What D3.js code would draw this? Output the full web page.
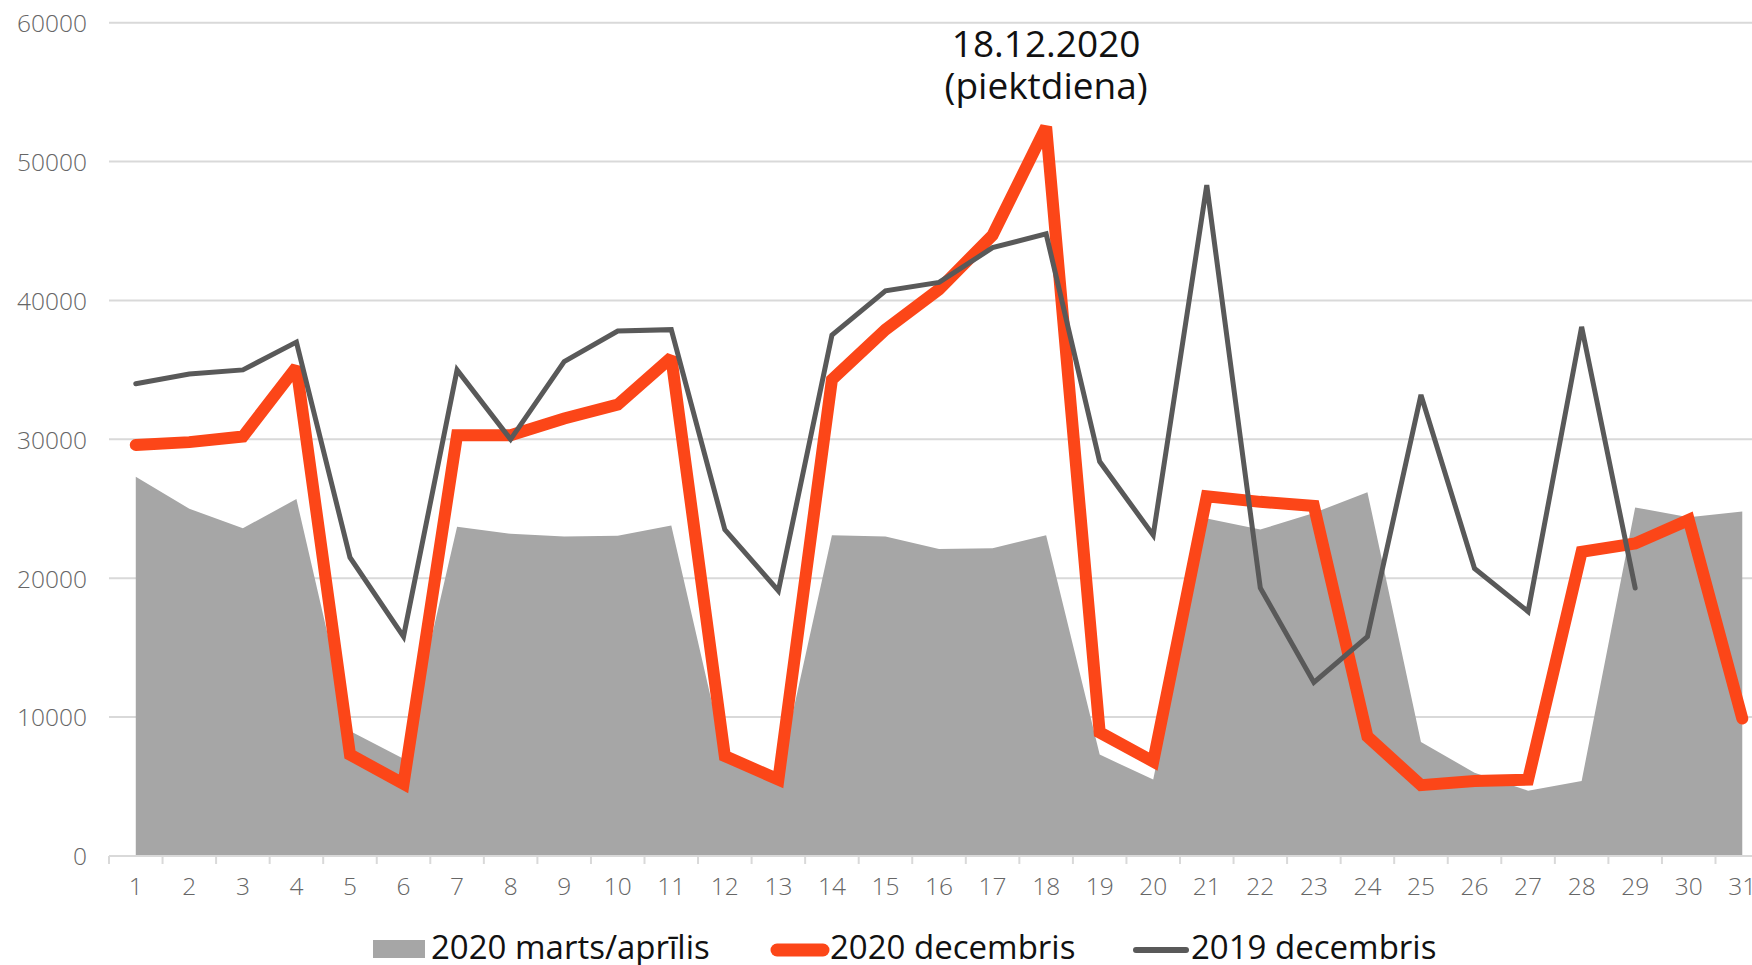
<!DOCTYPE html>
<html>
<head>
<meta charset="utf-8">
<script src="https://cdn.jsdelivr.net/npm/d3@7"></script>
<style>
  html, body { margin: 0; padding: 0; background: #fff; }
  svg { display: block; }
  .tick-label { font-family: "Open Sans", "Noto Sans", sans-serif; font-weight: 300; fill: #666; }
  .legend-label, .note { font-family: "Open Sans", "Noto Sans", sans-serif; fill: #111; }
</style>
</head>
<body>
<svg id="chart" width="1752" height="965"></svg>
<script>
// Days of the month on the category axis
const days = d3.range(1, 32).map(String);

// Daily counts, 2020 March/April (area)
const martsAprilis = [27300, 25000, 23600, 25700, 9000, 7000, 23700, 23200, 23000, 23050,
  23800, 7000, 5600, 23100, 23000, 22100, 22150, 23100, 7300, 5500,
  24300, 23500, 24700, 26200, 8200, 6000, 4700, 5400, 25100, 24400, 24800];

// Daily counts, December 2020 (thick line)
const decembris2020 = [29600, 29800, 30200, 35200, 7300, 5200, 30300, 30300, 31500, 32500,
  35900, 7200, 5500, 34300, 37900, 40800, 44700, 52500, 8900, 6800,
  25900, 25500, 25200, 8600, 5100, 5400, 5500, 21900, 22500, 24200, 9900];

// Daily counts, December 2019 (thin line); no data after the 29th
const decembris2019 = [34000, 34700, 35000, 37000, 21500, 15800, 35000, 30000, 35600, 37800,
  37900, 23500, 19100, 37500, 40700, 41300, 43800, 44800, 28400, 23100,
  48300, 19300, 12500, 15800, 33200, 20700, 17600, 38100, 19300, null, null];

const yTicks = [0, 10000, 20000, 30000, 40000, 50000, 60000];

const seriesNames = ["2020 marts/aprīlis", "2020 decembris", "2019 decembris"];
const noteLines = ["18.12.2020", "(piektdiena)"];
const noteDay = "18";

const colors = { area: "#a6a6a6", dec2020: "#fc4618", dec2019: "#595959", grid: "#d9d9d9" };

const svg = d3.select("#chart");
const W = 1752;

const x = d3.scaleBand().domain(days).range([109, 109 + 31 * 53.55]).padding(0);
const cx = d => x(d) + x.bandwidth() / 2;
const y = d3.scaleLinear().domain([0, 60000]).range([856, 22.7]);

// Horizontal gridlines
svg.append("g").selectAll("line").data(yTicks.filter(v => v > 0)).join("line")
  .attr("x1", x.range()[0]).attr("x2", W)
  .attr("y1", d => y(d)).attr("y2", d => y(d))
  .attr("stroke", colors.grid).attr("stroke-width", 2);

// Y axis labels
const yAxis = d3.axisLeft(y).tickValues(yTicks).tickSize(0).tickPadding(0).tickFormat(d => String(d));
const gy = svg.append("g").attr("transform", "translate(87,0)").call(yAxis);
gy.select(".domain").remove();
gy.selectAll("text").attr("class", "tick-label").attr("font-size", 24.5).attr("dy", "0.36em");

// Area
const area = d3.area()
  .x((d, i) => cx(days[i]))
  .y0(y(0))
  .y1(d => y(d));
svg.append("path").datum(martsAprilis).attr("d", area).attr("fill", colors.area);

// X axis baseline with ticks at band boundaries
svg.append("line").attr("x1", x.range()[0]).attr("x2", W)
  .attr("y1", y(0)).attr("y2", y(0)).attr("stroke", colors.grid).attr("stroke-width", 2);
svg.append("g").selectAll("line").data(days).join("line")
  .attr("x1", d => x(d)).attr("x2", d => x(d))
  .attr("y1", y(0)).attr("y2", y(0) + 8)
  .attr("stroke", colors.grid).attr("stroke-width", 2);

const xAxis = d3.axisBottom(x).tickSize(0).tickPadding(0);
const gx = svg.append("g").attr("transform", `translate(0,${y(0)})`).call(xAxis);
gx.select(".domain").remove();
gx.selectAll("text").attr("class", "tick-label").attr("font-size", 24.5).attr("dy", null).attr("y", 39);

// Lines
const line = d3.line()
  .defined(d => d != null)
  .x((d, i) => cx(days[i]))
  .y(d => y(d));

svg.append("path").datum(decembris2020).attr("d", line)
  .attr("fill", "none").attr("stroke", colors.dec2020).attr("stroke-width", 12)
  .attr("stroke-linejoin", "miter").attr("stroke-miterlimit", 2).attr("stroke-linecap", "round");

svg.append("path").datum(decembris2019).attr("d", line)
  .attr("fill", "none").attr("stroke", colors.dec2019).attr("stroke-width", 5)
  .attr("stroke-linejoin", "miter").attr("stroke-miterlimit", 3).attr("stroke-linecap", "round");

// Peak note
const note = svg.append("text").attr("class", "note").attr("text-anchor", "middle")
  .attr("font-size", 37);
note.selectAll("tspan").data(noteLines).join("tspan")
  .attr("x", cx(noteDay)).attr("y", (d, i) => 57 + i * 42).text(d => d);

// Legend
const legend = svg.append("g");
legend.append("rect").attr("x", 373).attr("y", 940).attr("width", 52).attr("height", 18).attr("fill", colors.area);
legend.append("text").attr("class", "legend-label").attr("x", 431).attr("y", 959).attr("font-size", 33).text(seriesNames[0]);
legend.append("line").attr("x1", 777).attr("x2", 823).attr("y1", 950).attr("y2", 950)
  .attr("stroke", colors.dec2020).attr("stroke-width", 13).attr("stroke-linecap", "round");
legend.append("text").attr("class", "legend-label").attr("x", 830).attr("y", 959).attr("font-size", 33).text(seriesNames[1]);
legend.append("line").attr("x1", 1136).attr("x2", 1186).attr("y1", 950).attr("y2", 950)
  .attr("stroke", colors.dec2019).attr("stroke-width", 6).attr("stroke-linecap", "round");
legend.append("text").attr("class", "legend-label").attr("x", 1191).attr("y", 959).attr("font-size", 33).text(seriesNames[2]);
</script>
</body>
</html>
